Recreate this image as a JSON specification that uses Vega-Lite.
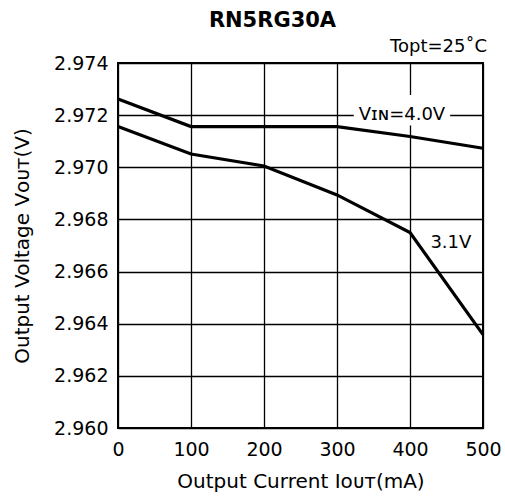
{
  "$schema": "https://vega.github.io/schema/vega-lite/v6.json",
  "autosize": {"type": "none"},
  "width": 365,
  "height": 365,
  "padding": {"left": 118, "top": 63, "right": 22, "bottom": 70},
  "background": "white",
  "title": {
    "text": "RN5RG30A",
    "font": "DejaVu Sans",
    "fontSize": 21,
    "fontWeight": "bold",
    "color": "black",
    "anchor": "middle",
    "baseline": "alphabetic",
    "dx": -28,
    "offset": -10
  },
  "config": {
    "view": {"stroke": "black", "strokeWidth": 2},
    "axis": {
      "grid": true,
      "gridColor": "black",
      "gridOpacity": 1,
      "gridWidth": 1.3,
      "domain": false,
      "ticks": false,
      "labelFlush": false,
      "labelFont": "DejaVu Sans",
      "labelFontSize": 19,
      "labelColor": "black",
      "titleFont": "DejaVu Sans",
      "titleFontSize": 20,
      "titleFontWeight": "normal",
      "titleColor": "black"
    }
  },
  "datasets": {
    "curves": [
      {"I": 0, "V": 2.97262, "series": "4.0V"},
      {"I": 100, "V": 2.97156, "series": "4.0V"},
      {"I": 200, "V": 2.97156, "series": "4.0V"},
      {"I": 300, "V": 2.97156, "series": "4.0V"},
      {"I": 400, "V": 2.97118, "series": "4.0V"},
      {"I": 500, "V": 2.97073, "series": "4.0V"},
      {"I": 0, "V": 2.97156, "series": "3.1V"},
      {"I": 100, "V": 2.97051, "series": "3.1V"},
      {"I": 200, "V": 2.97005, "series": "3.1V"},
      {"I": 300, "V": 2.96894, "series": "3.1V"},
      {"I": 400, "V": 2.9675, "series": "3.1V"},
      {"I": 500, "V": 2.96358, "series": "3.1V"}
    ],
    "labels": [
      {"I": 389, "V": 2.972, "label": "Vɪɴ=4.0V"},
      {"I": 456, "V": 2.9671, "label": "3.1V"}
    ]
  },
  "encoding": {
    "x": {
      "field": "I",
      "type": "quantitative",
      "scale": {"domain": [0, 500], "nice": false},
      "axis": {
        "values": [0, 100, 200, 300, 400, 500],
        "labelPadding": 12,
        "title": "Output Current Iᴏᴜᴛ(mA)",
        "titlePadding": 12
      }
    },
    "y": {
      "field": "V",
      "type": "quantitative",
      "scale": {"domain": [2.96, 2.974], "nice": false, "zero": false},
      "axis": {
        "values": [2.96, 2.962, 2.964, 2.966, 2.968, 2.97, 2.972, 2.974],
        "format": ".3f",
        "labelPadding": 10,
        "title": "Output Voltage Vᴏᴜᴛ(V)",
        "titlePadding": 21
      }
    }
  },
  "layer": [
    {
      "data": {"name": "labels"},
      "transform": [{"filter": "datum.label != '3.1V'"}],
      "mark": {"type": "rect", "color": "white", "opacity": 1},
      "encoding": {
        "x": {"datum": 323, "type": "quantitative"},
        "x2": {"datum": 455},
        "y": {"datum": 2.97277, "type": "quantitative"},
        "y2": {"datum": 2.9716}
      }
    },
    {
      "data": {"name": "curves"},
      "mark": {"type": "line", "color": "black", "strokeWidth": 3.2, "clip": false},
      "encoding": {"detail": {"field": "series"}}
    },
    {
      "data": {"name": "labels"},
      "mark": {"type": "text", "font": "DejaVu Sans", "fontSize": 18, "color": "black", "baseline": "middle", "align": "center"},
      "encoding": {"text": {"field": "label"}}
    },
    {
      "data": {"values": [{"I": 500, "V": 2.97443, "label": "Topt=25˚C"}]},
      "mark": {"type": "text", "font": "DejaVu Sans", "fontSize": 18, "color": "black", "baseline": "alphabetic", "align": "right", "dx": 4, "clip": false},
      "encoding": {"text": {"field": "label"}}
    }
  ]
}
